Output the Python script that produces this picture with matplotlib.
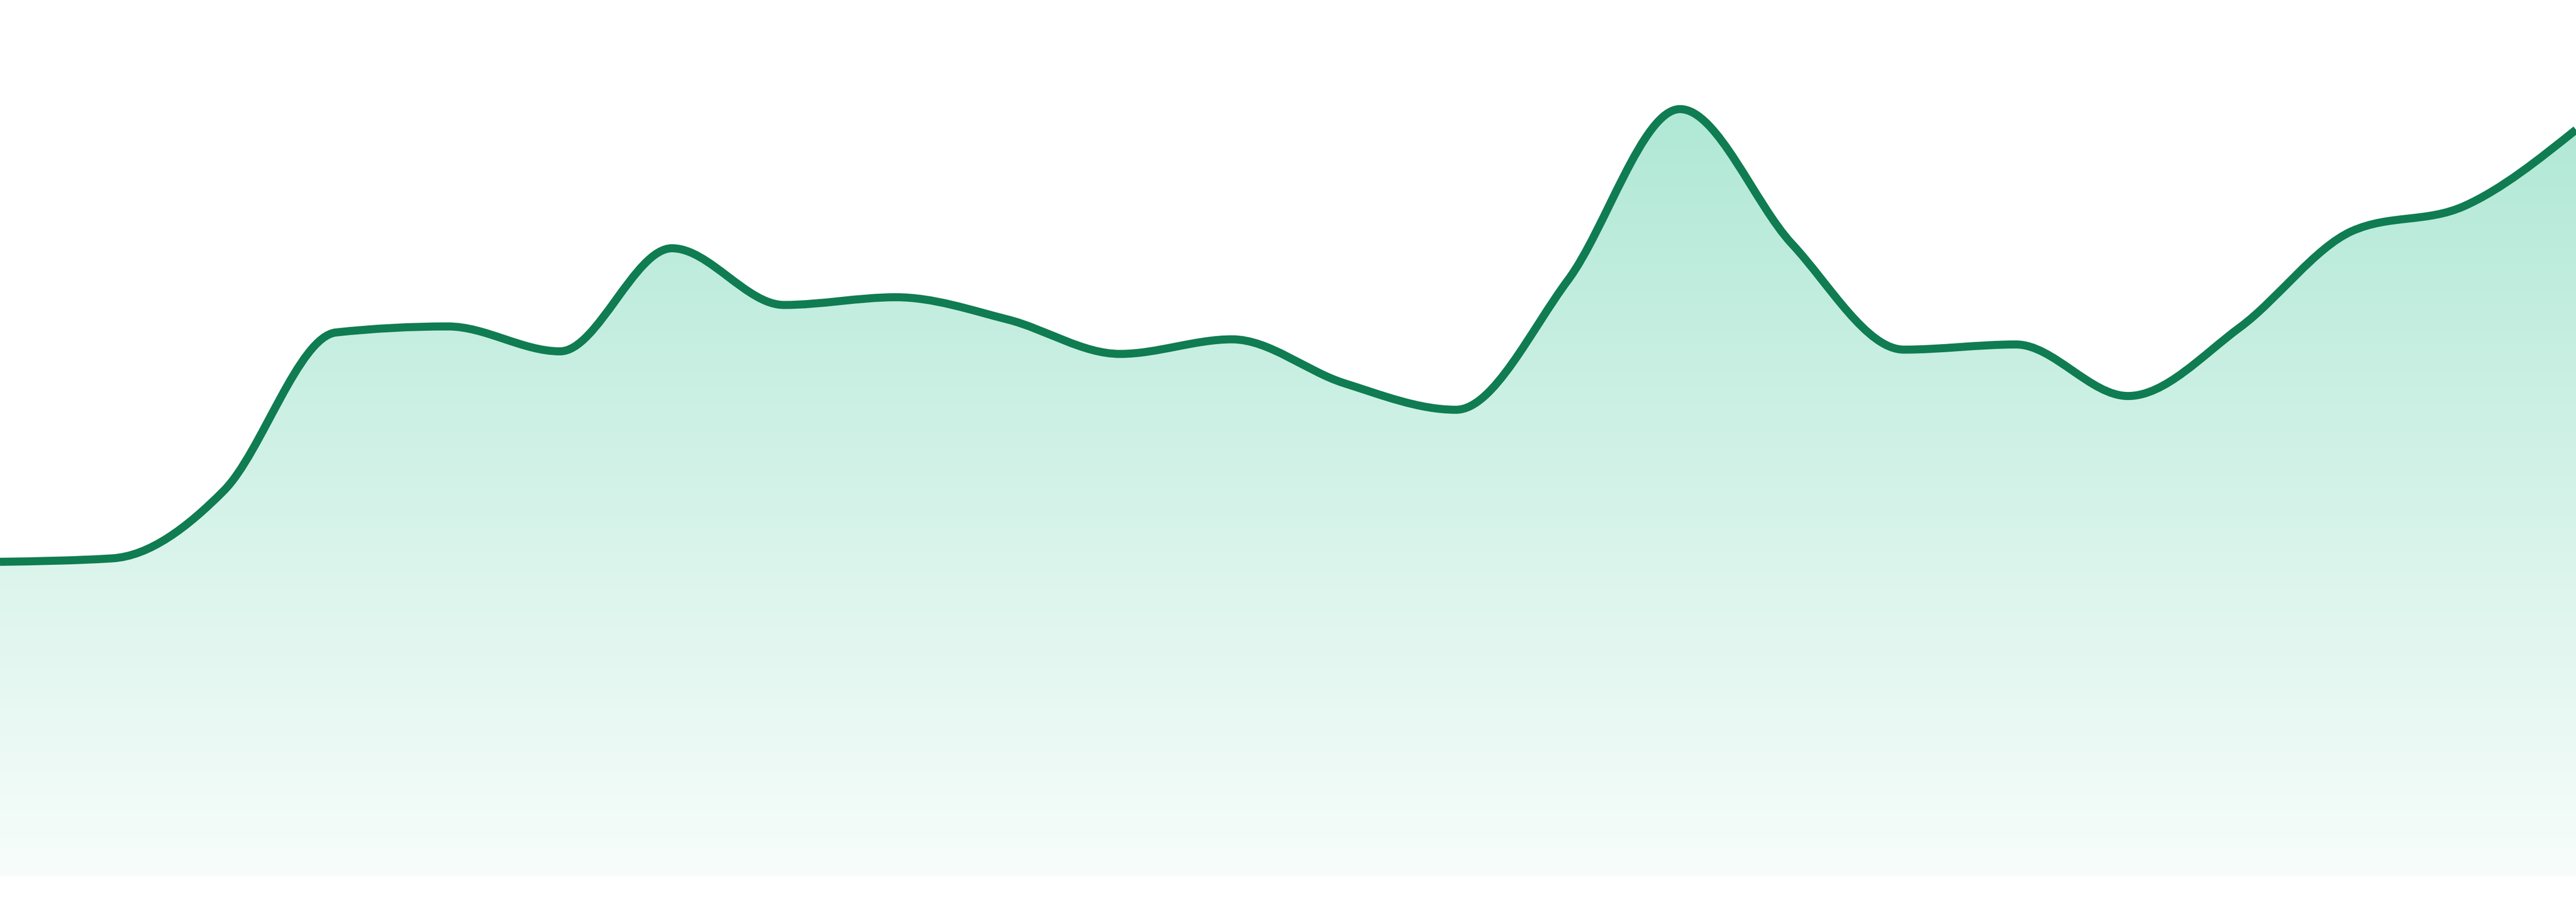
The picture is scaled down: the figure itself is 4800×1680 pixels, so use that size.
import numpy as np
import matplotlib
matplotlib.use("Agg")
import matplotlib.pyplot as plt
from matplotlib.path import Path
from matplotlib.patches import PathPatch

# values (24 evenly spaced samples)
steps = list(range(24))
values = [36.6, 37.0, 44.9, 63.3, 64.0, 61.1, 73.1, 66.5, 67.4, 64.8, 60.8, 62.5,
          57.4, 54.3, 69.4, 89.3, 73.6, 61.3, 61.9, 55.9, 63.9, 75.1, 78.0, 86.9]

line_color = "#107c52"
fill_rgb = np.array([16, 185, 129]) / 255.0


def monotone_slopes(x, y):
    # d3 curveMonotoneX tangents
    x = np.asarray(x, float)
    y = np.asarray(y, float)
    n = len(x)
    t = np.zeros(n)
    for i in range(1, n - 1):
        h0 = x[i] - x[i - 1]
        h1 = x[i + 1] - x[i]
        s0 = (y[i] - y[i - 1]) / h0
        s1 = (y[i + 1] - y[i]) / h1
        p = (s0 * h1 + s1 * h0) / (h0 + h1)
        t[i] = (np.sign(s0) + np.sign(s1)) * min(abs(s0), abs(s1), 0.5 * abs(p))
    h = x[1] - x[0]
    t[0] = (3 * (y[1] - y[0]) / h - t[1]) / 2
    h = x[-1] - x[-2]
    t[-1] = (3 * (y[-1] - y[-2]) / h - t[-2]) / 2
    return t


def curve_vertices(x, y):
    t = monotone_slopes(x, y)
    verts = [(x[0], y[0])]
    codes = [Path.MOVETO]
    for i in range(len(x) - 1):
        dx = (x[i + 1] - x[i]) / 3.0
        verts += [(x[i] + dx, y[i] + dx * t[i]),
                  (x[i + 1] - dx, y[i + 1] - dx * t[i + 1]),
                  (x[i + 1], y[i + 1])]
        codes += [Path.CURVE4] * 3
    return verts, codes


fig = plt.figure(figsize=(24, 8.4), dpi=200)
ax = fig.add_axes([0, 0, 1, 1])
ax.set_xlim(0, 23)
ax.set_ylim(-3, 102)
ax.axis("off")

verts, codes = curve_vertices(steps, values)

# area under the curve, filled with a vertical gradient
area_verts = verts + [(steps[-1], 0), (steps[0], 0), (steps[0], values[0])]
area_codes = codes + [Path.LINETO, Path.LINETO, Path.CLOSEPOLY]
area = PathPatch(Path(area_verts, area_codes), facecolor="none", edgecolor="none")
ax.add_patch(area)

a = np.linspace(0.032, 0.372, 256)[:, None]
grad = 1 - a[..., None] * (1 - fill_rgb)[None, None, :]
img = ax.imshow(grad, extent=(0, 23, 0, 102), origin="lower", aspect="auto",
                interpolation="bilinear", zorder=1)
img.set_clip_path(area)

line = PathPatch(Path(verts, codes), facecolor="none", edgecolor=line_color,
                 linewidth=5.4, capstyle="butt", joinstyle="round", zorder=3)
ax.add_patch(line)

fig.savefig("out.png", dpi=200, facecolor="white")
